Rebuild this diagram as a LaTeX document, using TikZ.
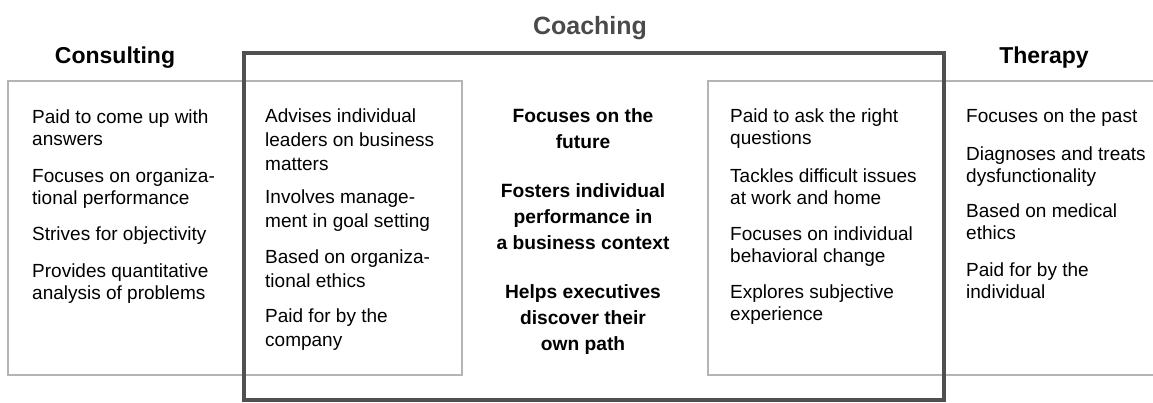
\documentclass[tikz,border=0pt]{standalone}
\usepackage{fontspec}
\setmainfont{Liberation Sans}
\definecolor{thinline}{HTML}{B4B4B4}
\definecolor{thickline}{HTML}{505050}
\definecolor{coachgray}{HTML}{4A4A4A}
\begin{document}
\begin{tikzpicture}[x=1pt,y=-1pt,
  title/.style={anchor=base, inner sep=0, font=\fontsize{23}{26}\selectfont\bfseries},
  item/.style={anchor=base west, align=left, inner sep=0, font=\fontsize{19}{#1}\selectfont},
  item/.default=22.5,
  centeritem/.style={anchor=base, align=center, inner sep=0, font=\fontsize{19.2}{26}\selectfont\bfseries},
  thinbox/.style={draw=thinline, line width=1.8pt},
  thickbox/.style={draw=thickline, line width=4pt}]
\useasboundingbox (0,0) rectangle (1153,402);
% boxes
\draw[thinbox] (8,81) rectangle (462,375);
\draw[thinbox] (708,81) rectangle (1165,375);
\draw[thickbox] (244,53) rectangle (944,400);
% titles
\node[title] (tcons) at (115,63) {Consulting};
\node[title] (tther) at (1044,63) {Therapy};
\node[title, text=coachgray, font=\fontsize{25}{28}\selectfont\bfseries] (tcoach) at (590,34) {Coaching};
% consulting column (anchors at baseline of last line)
\node[item=22] (c1) at (32,145) {Paid to come up with\\answers};
\node[item=22] (c2) at (32,204) {Focuses on organiza-\\tional performance};
\node[item=22] (c3) at (32,240) {Strives for objectivity};
\node[item=22] (c4) at (32,299) {Provides quantitative\\analysis of problems};
% coaching left column
\node[item=24] (l1) at (265,170) {Advises individual\\leaders on business\\matters};
\node[item=24] (l2) at (265,227) {Involves manage-\\ment in goal setting};
\node[item=24] (l3) at (265,287) {Based on organiza-\\tional ethics};
\node[item=24] (l4) at (265,346) {Paid for by the\\company};
% coaching centre column
\node[centeritem] (m1) at (583,148) {Focuses on the\\future};
\node[centeritem] (m2) at (583,249) {Fosters individual\\performance in\\a business context};
\node[centeritem] (m3) at (583,350) {Helps executives\\discover their\\own path};
% coaching right column
\node[item=22] (r1) at (730,144) {Paid to ask the right\\questions};
\node[item=22] (r2) at (730,204) {Tackles difficult issues\\at work and home};
\node[item=22] (r3) at (730,262) {Focuses on individual\\behavioral change};
\node[item=22] (r4) at (730,320) {Explores subjective\\experience};
% therapy column
\node[item=22] (t1) at (966,122) {Focuses on the past};
\node[item=22] (t2) at (966,182) {Diagnoses and treats\\dysfunctionality};
\node[item=22] (t3) at (966,239) {Based on medical\\ethics};
\node[item=22] (t4) at (966,298) {Paid for by the\\individual};
\end{tikzpicture}
\end{document}
